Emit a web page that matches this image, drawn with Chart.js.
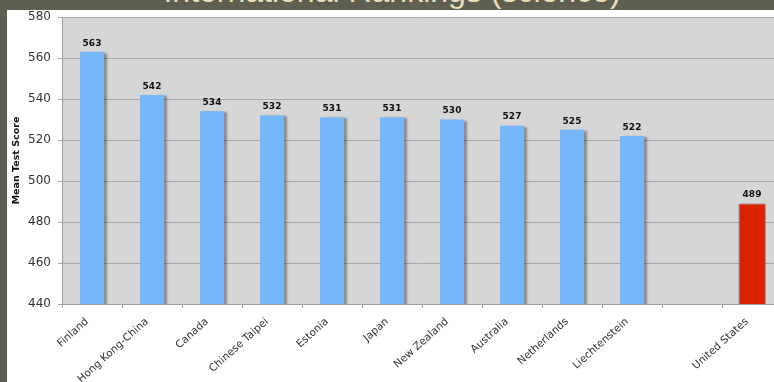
<!DOCTYPE html>
<html>
<head>
<meta charset="utf-8">
<script src="https://cdn.jsdelivr.net/npm/chart.js@4"></script>
<style>
    html, body {
        margin: 0;
        padding: 0;
        width: 774px;
        height: 382px;
        overflow: hidden;
        background: #5e5e51;
    }
    #slide-title {
        position: absolute;
        left: 0;
        width: 784px;
        top: -28px;
        text-align: center;
        font-family: "Liberation Sans", Arial, sans-serif;
        font-size: 32px;
        line-height: 38px;
        color: #e9deb8;
        white-space: nowrap;
    }
    #panel {
        position: absolute;
        left: 7px;
        top: 10px;
        width: 800px;
        height: 380px;
        background: #ffffff;
    }
    #chart-wrap {
        position: absolute;
        left: 0;
        top: 0;
        width: 790px;
        height: 382px;
    }
</style>
</head>
<body>
<div id="slide-title">International Rankings (science)</div>
<div id="panel"></div>
<div id="chart-wrap"><canvas id="scoresChart"></canvas></div>

<script>
const countries = ['Finland', 'Hong Kong-China', 'Canada', 'Chinese Taipei', 'Estonia', 'Japan',
    'New Zealand', 'Australia', 'Netherlands', 'Liechtenstein', '', 'United States'];
const topScores = [563, 542, 534, 532, 531, 531, 530, 527, 525, 522, null, null];
const usScores = [null, null, null, null, null, null, null, null, null, null, null, 489];
const yTicks = [440, 460, 480, 500, 520, 540, 560, 580];

// grey plot background
const plotBackground = {
    id: 'plotBackground',
    beforeDraw(chart) {
        const { ctx, chartArea } = chart;
        ctx.save();
        ctx.fillStyle = '#d6d6d6';
        ctx.fillRect(chartArea.left, chartArea.top, chartArea.right - chartArea.left, chartArea.bottom - chartArea.top);
        ctx.restore();
    }
};

// soft drop shadow on the right side of the bars
const barShadow = {
    id: 'barShadow',
    beforeDatasetsDraw(chart) {
        const ctx = chart.ctx;
        ctx.save();
        ctx.shadowColor = 'rgba(0, 0, 0, 0.35)';
        ctx.shadowOffsetX = 3;
        ctx.shadowOffsetY = 1;
        ctx.shadowBlur = 2;
    },
    afterDatasetsDraw(chart) {
        chart.ctx.restore();
    }
};

// score printed above each bar
const valueLabels = {
    id: 'valueLabels',
    afterDatasetsDraw(chart) {
        const ctx = chart.ctx;
        ctx.save();
        ctx.font = 'bold 9px "DejaVu Sans", Verdana, sans-serif';
        ctx.fillStyle = '#111111';
        ctx.textAlign = 'center';
        ctx.textBaseline = 'bottom';
        chart.data.datasets.forEach((dataset, i) => {
            const meta = chart.getDatasetMeta(i);
            meta.data.forEach((bar, index) => {
                const value = dataset.data[index];
                if (value === null) return;
                ctx.fillText(String(value), bar.x, bar.y - 4);
            });
        });
        ctx.restore();
    }
};

const ctx = document.getElementById('scoresChart').getContext('2d');

const scoresChart = new Chart(ctx, {
    type: 'bar',
    data: {
        labels: countries,
        datasets: [{
            label: 'Mean Test Score',
            data: topScores,
            backgroundColor: '#74b8fa',
            borderWidth: 0,
            barPercentage: 0.4,
            categoryPercentage: 1,
            grouped: false
        }, {
            label: 'United States',
            data: usScores,
            backgroundColor: '#dc2100',
            borderColor: '#8f6a58',
            borderWidth: 1,
            barPercentage: 0.45,
            categoryPercentage: 1,
            grouped: false
        }]
    },
    options: {
        responsive: true,
        maintainAspectRatio: false,
        animation: false,
        layout: {
            padding: { left: 7, top: 17, right: 8, bottom: 0 }
        },
        plugins: {
            legend: { display: false },
            title: { display: false },
            tooltip: { enabled: false }
        },
        scales: {
            x: {
                grid: {
                    display: true,
                    drawOnChartArea: false,
                    offset: true,
                    color: '#a0a0a0',
                    tickLength: 4
                },
                border: { color: '#a0a0a0' },
                ticks: {
                    autoSkip: false,
                    minRotation: 42,
                    maxRotation: 42,
                    padding: 3,
                    color: '#333333',
                    font: { family: '"DejaVu Sans", Verdana, sans-serif', size: 10.5 },
                    // trailing gap pulls the slanted names a little left of the tick
                    callback(value) {
                        const name = this.getLabelForValue(value);
                        return name ? name + '  ' : name;
                    }
                },
                afterFit(scale) {
                    scale.height = 78;
                }
            },
            y: {
                min: 440,
                max: 580,
                afterBuildTicks(scale) {
                    scale.ticks = yTicks.map(v => ({ value: v }));
                },
                grid: {
                    color: '#a8a8a8',
                    tickLength: 4
                },
                border: { color: '#a0a0a0' },
                ticks: {
                    padding: 7,
                    color: '#333333',
                    font: { family: '"DejaVu Sans", Verdana, sans-serif', size: 12 }
                },
                title: {
                    display: true,
                    text: 'Mean Test Score',
                    color: '#111111',
                    padding: { top: 4, bottom: 0 },
                    font: { family: '"DejaVu Sans", Verdana, sans-serif', size: 9.5, weight: 'bold' }
                },
                afterFit(scale) {
                    scale.width = 55;
                }
            }
        }
    },
    plugins: [plotBackground, barShadow, valueLabels]
});
</script>
</body>
</html>
